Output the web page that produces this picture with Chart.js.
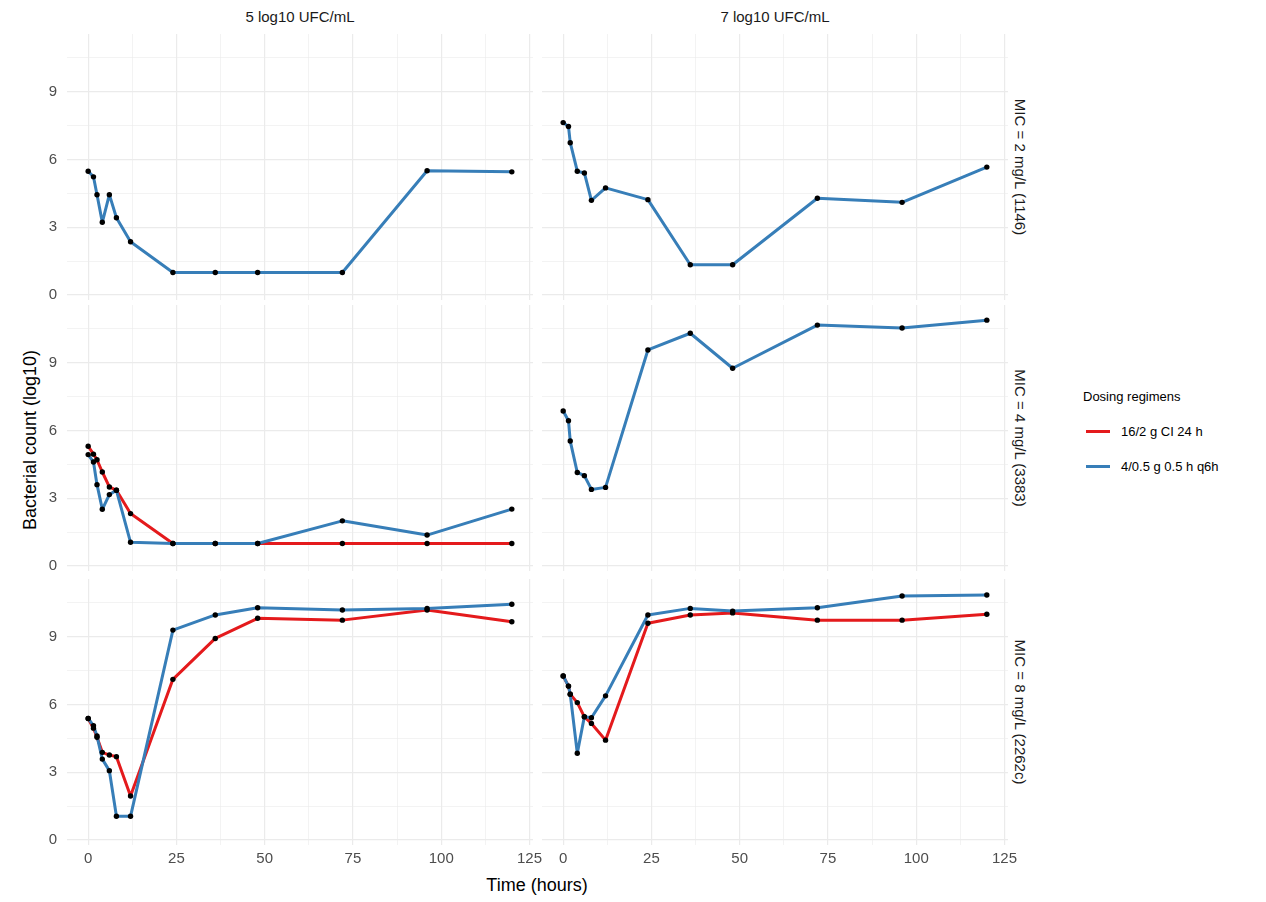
<!DOCTYPE html>
<html>
<head>
<meta charset="utf-8">
<script src="https://cdn.jsdelivr.net/npm/chart.js@4.4.1/dist/chart.umd.min.js"></script>
<style>
  body { margin: 0; background: #fff; font-family: "Liberation Sans", Arial, sans-serif; }
  #wrap { position: relative; width: 1266px; height: 902px; }
  canvas { position: absolute; }
  .strip { position: absolute; font-size: 15px; color: #1a1a1a; white-space: nowrap; }
  .top { top: 8px; transform: translateX(-50%); }
  .side { left: 1020px; transform: translate(-50%, -50%) rotate(90deg); }
  .title { position: absolute; font-size: 18px; color: #000; white-space: nowrap; }
  .legend { position: absolute; left: 1083px; top: 386px; font-size: 13px; color: #000; }
  .legend .item { position: relative; height: 35px; line-height: 35px; padding-left: 38px; }
  .legend .key { position: absolute; left: 3px; top: 16px; width: 24px; height: 3px; }
</style>
</head>
<body>
<div id="wrap">
  <div class="strip top" style="left:300px">5 log10 UFC/mL</div>
  <div class="strip top" style="left:775px">7 log10 UFC/mL</div>
  <div class="strip side" style="top:167px">MIC = 2 mg/L (1146)</div>
  <div class="strip side" style="top:438px">MIC = 4 mg/L (3383)</div>
  <div class="strip side" style="top:712px">MIC = 8 mg/L (2262c)</div>
  <div class="title" style="left:30px;top:440px;transform:translate(-50%,-50%) rotate(-90deg)">Bacterial count (log10)</div>
  <div class="title" style="left:537px;top:885px;transform:translate(-50%,-50%)">Time (hours)</div>
  <div class="legend">
    <div style="height:28px;line-height:22px;font-size:13px">Dosing regimens</div>
    <div class="item"><span class="key" style="background:#e41a1c"></span>16/2 g CI 24 h</div>
    <div class="item"><span class="key" style="background:#377eb8"></span>4/0.5 g 0.5 h q6h</div>
  </div>
</div>
<script>
// sampling times (hours)
const times5 = [0, 1.5, 2.5, 4, 6, 8, 12, 24, 36, 48, 72, 96, 120];
const times7 = [0, 1.5, 2, 4, 6, 8, 12, 24, 36, 48, 72, 96, 120];

// log10 counts, 4/0.5 g 0.5 h q6h (blue)
const q6h_mic2_5 = [5.48, 5.23, 4.44, 3.22, 4.44, 3.42, 2.36, 1.0, 1.0, 1.0, 1.0, 5.5, 5.45];
const q6h_mic2_7 = [7.63, 7.46, 6.74, 5.48, 5.4, 4.19, 4.74, 4.22, 1.34, 1.34, 4.28, 4.1, 5.66];
const q6h_mic4_5 = [4.93, 4.6, 3.6, 2.51, 3.16, 3.35, 1.05, 1.0, 1.0, 1.0, 2.0, 1.37, 2.52];
const q6h_mic4_7 = [6.86, 6.43, 5.53, 4.14, 4.0, 3.39, 3.48, 9.56, 10.3, 8.75, 10.66, 10.53, 10.88];
const q6h_mic8_5 = [5.38, 5.06, 4.6, 3.58, 3.07, 1.05, 1.05, 9.29, 9.96, 10.28, 10.18, 10.25, 10.43];
const q6h_mic8_7 = [7.26, 6.81, 6.45, 3.84, 5.46, 5.41, 6.38, 9.96, 10.25, 10.13, 10.28, 10.8, 10.84];

// log10 counts, 16/2 g CI 24 h (red)
const ci_mic4_5 = [5.3, 4.95, 4.7, 4.16, 3.5, 3.35, 2.32, 1.0, 1.0, 1.0, 1.0, 1.0, 1.0];
const ci_mic8_5 = [5.38, 4.95, 4.55, 3.88, 3.76, 3.69, 1.95, 7.11, 8.92, 9.81, 9.73, 10.18, 9.66];
const ci_mic8_7 = [7.26, 6.81, 6.45, 6.08, 5.45, 5.16, 4.42, 9.59, 9.96, 10.05, 9.73, 9.73, 9.99];

// axis breaks (major + minor)
const xBreaks = [0, 12.5, 25, 37.5, 50, 62.5, 75, 87.5, 100, 112.5, 125];
const yBreaks = [0, 1.5, 3, 4.5, 6, 7.5, 9, 10.5];

const RED = '#e41a1c';
const BLUE = '#377eb8';
const FONT = "'Liberation Sans', Arial, sans-serif";

const pts = (t, v) => t.map((x, i) => ({ x: x, y: v[i] }));

// panel layout: col 0 = 5 log10, col 1 = 7 log10
const colLeft = [0, 542];
const colWidth = [533, 466];
const rowTop = [34, 305, 579];
const panelH = 266;
const axisW = 67;
const axisH = 32;
const spare = 20; // room on the right for the "125" tick label

const panels = [
  { row: 0, col: 0, t: times5, blue: q6h_mic2_5, red: null },
  { row: 0, col: 1, t: times7, blue: q6h_mic2_7, red: null },
  { row: 1, col: 0, t: times5, blue: q6h_mic4_5, red: ci_mic4_5 },
  { row: 1, col: 1, t: times7, blue: q6h_mic4_7, red: null },
  { row: 2, col: 0, t: times5, blue: q6h_mic8_5, red: ci_mic8_5 },
  { row: 2, col: 1, t: times7, blue: q6h_mic8_7, red: ci_mic8_7 }
];

const wrap = document.getElementById('wrap');

panels.forEach(p => {
  const showY = p.col === 0;
  const showX = p.row === 2;
  const cv = document.createElement('canvas');
  cv.width = colWidth[p.col] + spare;
  cv.height = panelH + (showX ? axisH : 0);
  cv.style.left = colLeft[p.col] + 'px';
  cv.style.top = rowTop[p.row] + 'px';
  wrap.appendChild(cv);

  const lineSet = (v, color) => ({
    data: pts(p.t, v),
    borderColor: color,
    backgroundColor: color,
    borderWidth: 3,
    borderJoinStyle: 'round',
    borderCapStyle: 'round',
    pointRadius: 0,
    tension: 0,
    fill: false
  });
  const pointSet = v => ({
    data: pts(p.t, v),
    showLine: false,
    pointRadius: 2.7,
    pointBackgroundColor: '#000',
    pointBorderWidth: 0
  });

  // first dataset is drawn on top: points, then blue line, then red line
  const datasets = [pointSet(p.blue)];
  if (p.red) datasets.push(pointSet(p.red));
  datasets.push(lineSet(p.blue, BLUE));
  if (p.red) datasets.push(lineSet(p.red, RED));

  const gridColor = '#ebebeb';

  new Chart(cv.getContext('2d'), {
    type: 'line',
    data: { datasets: datasets },
    options: {
      responsive: false,
      animation: false,
      layout: { padding: { left: 0, top: 0, bottom: 0, right: spare }, autoPadding: false },
      plugins: { legend: { display: false }, tooltip: { enabled: false } },
      scales: {
        x: {
          type: 'linear',
          min: -6,
          max: 126,
          afterBuildTicks: axis => { axis.ticks = xBreaks.map(v => ({ value: v })); },
          afterFit: axis => {
            axis.height = showX ? axisH : 0;
            axis.paddingLeft = 0; axis.paddingRight = 0;
            axis.paddingTop = 0; axis.paddingBottom = 0;
          },
          border: { display: false },
          grid: {
            drawTicks: false,
            color: gridColor,
            lineWidth: ctx => (ctx.tick && ctx.tick.value % 25 === 0) ? 1.2 : 0.6
          },
          ticks: {
            display: showX,
            padding: 5,
            maxRotation: 0,
            autoSkip: false,
            color: '#4d4d4d',
            font: { family: FONT, size: 15 },
            callback: v => v % 25 === 0 ? v : ''
          }
        },
        y: {
          type: 'linear',
          min: -0.22,
          max: 11.55,
          afterBuildTicks: axis => { axis.ticks = yBreaks.map(v => ({ value: v })); },
          afterFit: axis => {
            axis.width = showY ? axisW : 0;
            axis.paddingLeft = 0; axis.paddingRight = 0;
            axis.paddingTop = 0; axis.paddingBottom = 0;
          },
          border: { display: false },
          grid: {
            drawTicks: false,
            color: gridColor,
            lineWidth: ctx => (ctx.tick && ctx.tick.value % 3 === 0) ? 1.2 : 0.6
          },
          ticks: {
            display: showY,
            padding: 10,
            autoSkip: false,
            color: '#4d4d4d',
            font: { family: FONT, size: 15 },
            callback: v => v % 3 === 0 ? v : ''
          }
        }
      }
    }
  });
});
</script>
</body>
</html>
